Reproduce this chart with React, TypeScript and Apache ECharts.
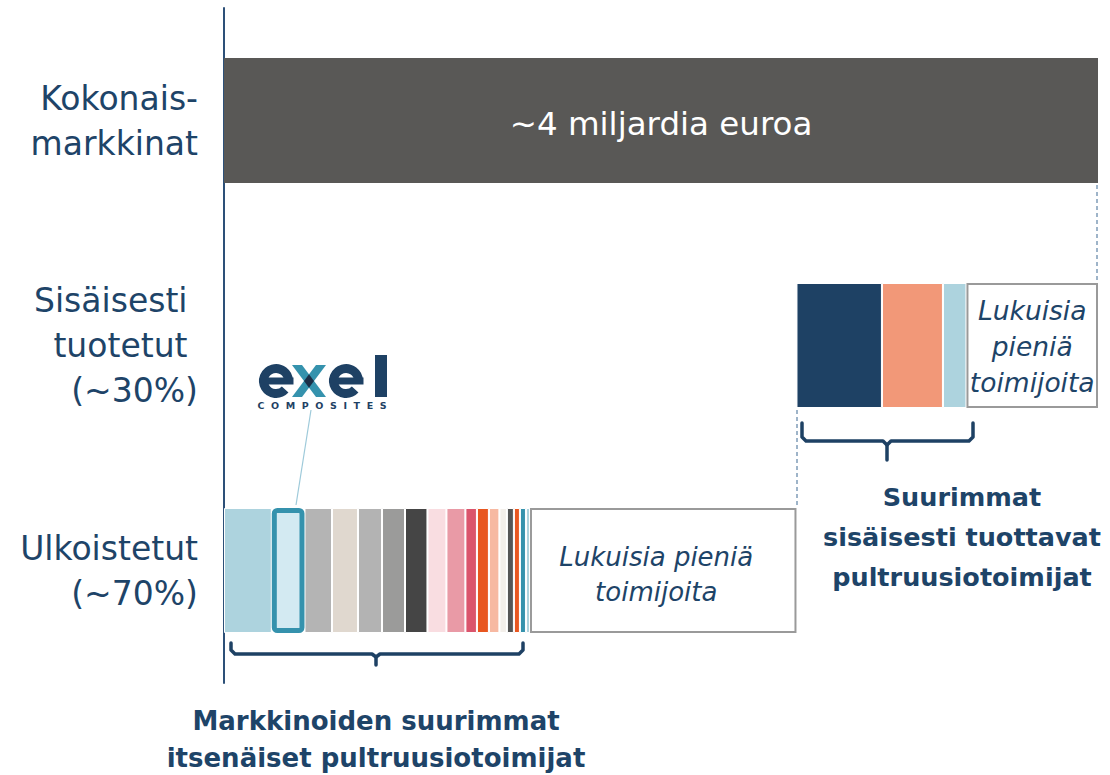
import React, { useEffect, useRef } from "react";
import * as echarts from "echarts";

// ---------- data ----------
const categories = [
  "Kokonais-\nmarkkinat",
  "Sisäisesti\u00a0\ntuotetut\u00a0\n(~30%)",
  "Ulkoistetut\n(~70%)",
];
const totalMarketShare = 100;
const totalMarketLabel = "~4 miljardia euroa";
// outsourced: largest independent pultrusion players (Exel is the 2nd)
const outsourcedShares = [5.47, 3.74, 3.15, 2.97, 2.75, 2.63, 2.57, 2.17, 2.17, 1.32, 1.37, 1.2, 0.86, 0.8, 0.69, 0.69, 0.46];
const outsourcedSmallPlayers = 30.49;
// in-house: largest in-house pultruders
const inHouseShares = [9.78, 6.98, 2.69];
const inHouseSmallPlayers = 15.05;
const smallPlayersBottom = "Lukuisia pieniä\ntoimijoita";
const smallPlayersRight = "Lukuisia\npieniä\ntoimijoita";
const outsourcedCaption = "Markkinoiden suurimmat\nitsenäiset pultruusiotoimijat";
const inHouseCaption = "Suurimmat\nsisäisesti tuottavat\npultruusiotoimijat";
const exelIndex = 1;
const logoSubtitle = "COMPOSITES";

// ---------- styles ----------
const outsourcedColors = [
  "#ADD3DE", "#D3EAF2", "#B4B4B4", "#E0D8CF", "#B3B3B3", "#9B9B9A", "#454545",
  "#F9DDE1", "#E99AA6", "#DB546C", "#E8561F", "#F7B9A2", "#F3EFEA", "#555555",
  "#E8561F", "#3592AD", "#ADD3DE",
];
const inHouseColors = ["#1E4164", "#F29878", "#ADD3DE"];
const NAVY = "#1E4468";
const LOGO_NAVY = "#1E4164";
const LOGO_TEAL = "#3592AD";
const FONT = "DejaVu Sans";

const row = (idx: number, v: number) => categories.map((_, i) => (i === idx ? v : "-"));
const sum = (a: number[]) => a.reduce((s, v) => s + v, 0);

// geometric "e" glyph of the logo (drawn as shapes: the logo is an image)
const logoE = (cx: number) => [
  {
    type: "arc",
    shape: { cx, cy: 381, r: 12.5, startAngle: 0.75, endAngle: Math.PI * 2, clockwise: true },
    style: { stroke: LOGO_NAVY, lineWidth: 9, fill: "none" },
  },
  { type: "rect", shape: { x: cx - 13, y: 377.5, width: 30.5, height: 7 }, style: { fill: LOGO_NAVY } },
];

export default function App() {
  const ref = useRef<HTMLDivElement>(null);
  useEffect(() => {
    document.body.style.margin = "0";
    const chart = echarts.init(ref.current!, undefined, { renderer: "svg" });
    const BAR = 125;
    const series: any[] = [];
    series.push({
      type: "bar", stack: "m", barWidth: BAR, data: row(0, totalMarketShare),
      itemStyle: { color: "#595856" },
      label: { show: true, position: "inside", formatter: totalMarketLabel, color: "#fff", fontSize: 32.5, fontFamily: FONT, offset: [0, 3] },
    });
    outsourcedShares.forEach((v, i) => {
      series.push({
        type: "bar", stack: "m", barWidth: BAR, data: row(2, v), z: i === exelIndex ? 4 : 2,
        itemStyle: i === exelIndex
          ? { color: outsourcedColors[i], borderColor: "#3592AD", borderWidth: 5, borderRadius: 3 }
          : { color: outsourcedColors[i], borderColor: "#fff", borderWidth: 1 },
      });
    });
    series.push({
      type: "bar", stack: "m", barWidth: BAR, data: row(2, outsourcedSmallPlayers), z: 3,
      itemStyle: { color: "#fff", borderColor: "#9A9A9A", borderWidth: 2 },
      label: {
        show: true, position: "inside", formatter: smallPlayersBottom, color: NAVY, fontSize: 26,
        fontStyle: "italic", fontFamily: FONT, lineHeight: 35, offset: [-7, 4],
      },
    });
    series.push({
      type: "bar", stack: "m", barWidth: BAR, silent: true,
      data: row(1, sum(outsourcedShares) + outsourcedSmallPlayers),
      itemStyle: { color: "rgba(0,0,0,0)" },
    });
    inHouseShares.forEach((v, i) => {
      series.push({
        type: "bar", stack: "m", barWidth: BAR, data: row(1, v),
        itemStyle: { color: inHouseColors[i], borderColor: "#fff", borderWidth: 1 },
      });
    });
    series.push({
      type: "bar", stack: "m", barWidth: BAR, data: row(1, inHouseSmallPlayers), z: 3,
      itemStyle: { color: "#fff", borderColor: "#9A9A9A", borderWidth: 2 },
      label: {
        show: true, position: "inside", formatter: smallPlayersRight, color: NAVY, fontSize: 26.5,
        fontStyle: "italic", fontFamily: FONT, lineHeight: 36, offset: [0, 1],
      },
    });

    const braceStyle = { stroke: "#1E4164", lineWidth: 3.5, fill: "none", lineJoin: "round", lineCap: "round" };
    const dashStyle = { stroke: "#7F9CB8", lineWidth: 1.5, lineDash: [4, 3] };
    const graphic: any[] = [
      { type: "line", shape: { x1: 1097, y1: 185, x2: 1097, y2: 283 }, style: dashStyle },
      { type: "line", shape: { x1: 797, y1: 410, x2: 797, y2: 507 }, style: dashStyle },
      {
        type: "polyline", shape: { points: [[231, 643], [231, 650], [235, 654], [372, 654], [376, 657], [376, 665]] }, style: braceStyle,
      },
      {
        type: "polyline", shape: { points: [[376, 657], [380, 654], [519, 654], [523, 650], [523, 643]] }, style: braceStyle,
      },
      {
        type: "polyline", shape: { points: [[802, 423], [802, 437], [806, 441], [883, 441], [887, 445], [887, 460]] }, style: braceStyle,
      },
      {
        type: "polyline", shape: { points: [[887, 445], [891, 441], [969, 441], [973, 437], [973, 423]] }, style: braceStyle,
      },
      {
        type: "text", x: 376, y: 739,
        style: { text: outsourcedCaption, fill: NAVY, fontSize: 26, fontWeight: "bold", fontFamily: FONT, lineHeight: 37, align: "center", verticalAlign: "middle" },
      },
      {
        type: "text", x: 962, y: 537,
        style: { text: inHouseCaption, fill: NAVY, fontSize: 25.5, fontWeight: "bold", fontFamily: FONT, lineHeight: 40, align: "center", verticalAlign: "middle" },
      },
      // Exel Composites logo
      { type: "line", shape: { x1: 311, y1: 410, x2: 296, y2: 505 }, style: { stroke: "#9ECADA", lineWidth: 1.2 } },
      ...logoE(276),
      {
        type: "polygon", shape: { points: [[292, 365], [302, 365], [326, 397], [316, 397]] }, style: { fill: LOGO_TEAL },
      },
      {
        type: "polygon", shape: { points: [[316, 365], [326, 365], [302, 397], [292, 397]] }, style: { fill: LOGO_TEAL },
      },
      {
        type: "polygon", shape: { points: [[309, 374.3], [314, 381], [309, 387.7], [304, 381]] }, style: { fill: "#1C2F48" },
      },
      ...logoE(346),
      { type: "rect", shape: { x: 375, y: 355, width: 12, height: 42 }, style: { fill: LOGO_NAVY } },
      {
        type: "text", x: 322, y: 405,
        style: {
          text: logoSubtitle.split("").join("\u00a0\u00a0"),
          fill: LOGO_NAVY, fontSize: 9.5, fontWeight: "bold", fontFamily: FONT, lineHeight: 10,
          align: "center", verticalAlign: "middle",
        },
      },
    ];

    chart.setOption({
      animation: false,
      grid: { left: 224, right: 12, top: 8, bottom: 92 },
      xAxis: { type: "value", min: 0, max: 100, show: false },
      yAxis: {
        type: "category", data: categories, inverse: true,
        axisLine: { show: true, lineStyle: { color: "#2D5078", width: 2 } },
        axisTick: { show: false },
        splitLine: { show: false },
        axisLabel: { color: NAVY, fontSize: 33, fontFamily: FONT, lineHeight: 45, margin: 26, align: "right" },
      },
      series,
      graphic,
    });
    return () => chart.dispose();
  }, []);
  return <div ref={ref} style={{ width: 1110, height: 775 }} />;
}
